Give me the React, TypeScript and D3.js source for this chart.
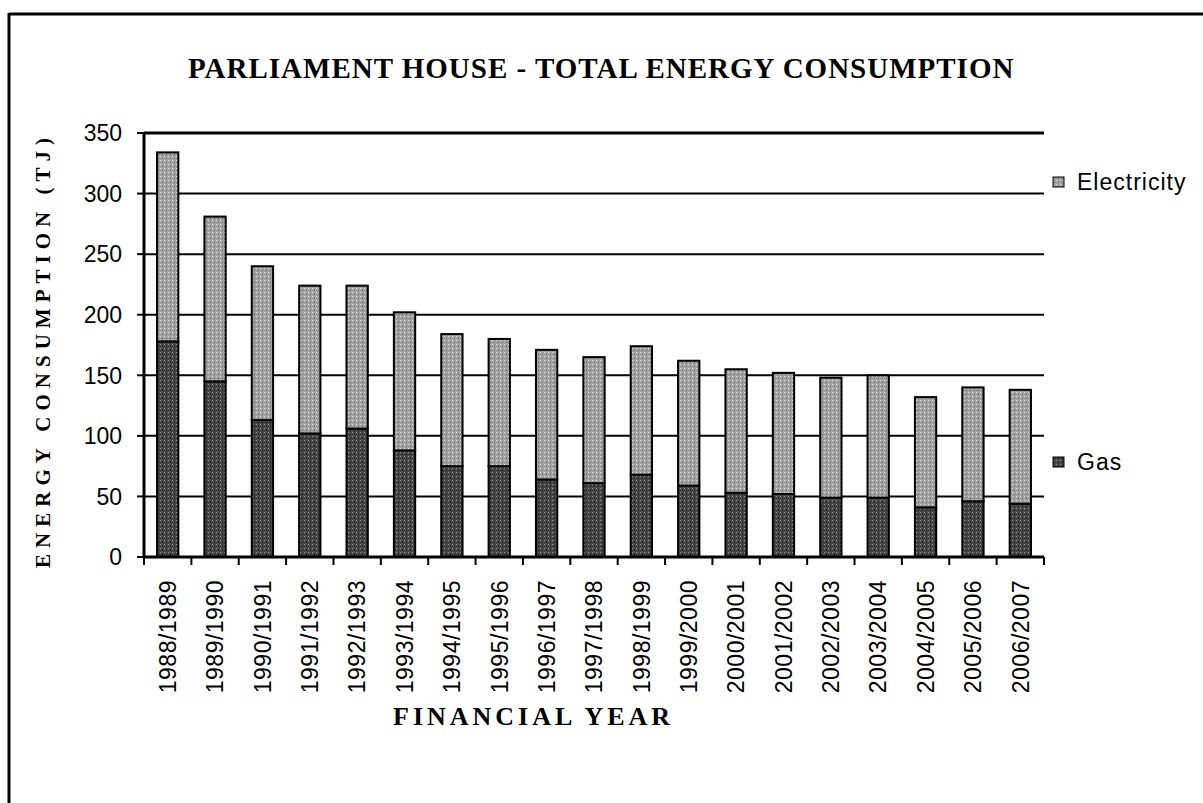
import React from 'react';
import * as d3 from 'd3';

const years = ['1988/1989','1989/1990','1990/1991','1991/1992','1992/1993','1993/1994','1994/1995','1995/1996','1996/1997','1997/1998','1998/1999','1999/2000','2000/2001','2001/2002','2002/2003','2003/2004','2004/2005','2005/2006','2006/2007'];
const gas = [178,145,113,102,106,88,75,75,64,61,68,59,53,52,49,49,41,46,44];
const electricity = [156,136,127,122,118,114,109,105,107,104,106,103,102,100,99,101,91,94,94];
const yTicks = [0,50,100,150,200,250,300,350];
const seriesNames = ['Electricity','Gas'];
const elecColor = '#a0a0a0';
const gasColor = '#464646';

export default function App() {
  const W = 1203, H = 803;
  const left = 144, right = 1044, top = 133, bottom = 557;
  const y = d3.scaleLinear().domain([0, 350]).range([bottom, top]);
  const x = d3.scaleBand<string>().domain(years).range([left, right]).paddingInner(0.55).paddingOuter(0.275);
  const bw = x.bandwidth();
  const step = x.step();
  const sans = '"Liberation Sans", Arial, sans-serif';
  const serif = '"Liberation Serif", "Times New Roman", serif';
  return (
    <svg width={W} height={H} style={{ position: 'absolute', left: 0, top: 0 }}>
      <defs>
        <pattern id="pe" width="4" height="4" patternUnits="userSpaceOnUse">
          <rect width="4" height="4" fill={elecColor} />
          <rect x="0" y="0" width="1" height="1" fill="#e4e4e4" />
          <rect x="2" y="2" width="1" height="1" fill="#666" />
        </pattern>
        <pattern id="pg" width="4" height="4" patternUnits="userSpaceOnUse">
          <rect width="4" height="4" fill={gasColor} />
          <rect x="0" y="0" width="1" height="1" fill="#999" />
          <rect x="2" y="2" width="1" height="1" fill="#151515" />
        </pattern>
      </defs>
      <rect x={0} y={0} width={W} height={H} fill="#fff" />
      {/* outer frame */}
      <line x1={9} y1={14} x2={W} y2={14} stroke="#000" strokeWidth={3} />
      <line x1={9} y1={13} x2={9} y2={H} stroke="#000" strokeWidth={3} />
      {/* title */}
      <text x={188} y={78} fontFamily={serif} fontWeight="bold" fontSize={29} letterSpacing={1} fill="#000">PARLIAMENT HOUSE - TOTAL ENERGY CONSUMPTION</text>
      {/* gridlines */}
      {yTicks.filter(t => t > 0).map(t => (
        <line key={t} x1={left} x2={right} y1={y(t)} y2={y(t)} stroke="#000" strokeWidth={t === 350 ? 3 : 2} />
      ))}
      {/* y ticks */}
      {yTicks.map(t => (
        <g key={'yt' + t}>
          <line x1={left - 7} x2={left} y1={y(t)} y2={y(t)} stroke="#000" strokeWidth={2} />
          <text x={122} y={y(t)} dy="0.36em" textAnchor="end" fontFamily={sans} fontSize={23} fill="#000">{t}</text>
        </g>
      ))}
      {/* bars */}
      {years.map((yr, i) => {
        const x0 = x(yr)!;
        const g = gas[i];
        const e = electricity[i];
        return (
          <g key={yr}>
            <rect x={x0} y={y(g)} width={bw} height={y(0) - y(g)} fill="url(#pg)" stroke="#000" strokeWidth={2} />
            <rect x={x0} y={y(g + e)} width={bw} height={y(g) - y(g + e)} fill="url(#pe)" stroke="#000" strokeWidth={2} />
          </g>
        );
      })}
      {/* axes */}
      <line x1={left} x2={left} y1={top - 1} y2={bottom + 1} stroke="#000" strokeWidth={3} />
      <line x1={left} x2={right} y1={bottom} y2={bottom} stroke="#000" strokeWidth={3} />
      {d3.range(years.length + 1).map(k => {
        const xx = left + k * step;
        return <line key={'xt' + k} x1={xx} x2={xx} y1={bottom} y2={bottom + 8} stroke="#000" strokeWidth={2} />;
      })}
      {years.map(yr => {
        const cx = x(yr)! + bw / 2;
        return (
          <text key={'xl' + yr} transform={`translate(${cx},580) rotate(-90)`} textAnchor="end" dy="0.36em" fontFamily={sans} fontSize={23} letterSpacing={0.5} fill="#000">{yr}</text>
        );
      })}
      {/* axis titles */}
      <text transform={`translate(50,350) rotate(-90)`} textAnchor="middle" fontFamily={serif} fontWeight="bold" fontSize={21} letterSpacing={6} fill="#000">ENERGY CONSUMPTION (TJ)</text>
      <text x={393} y={725} fontFamily={serif} fontWeight="bold" fontSize={26} letterSpacing={4} fill="#000">FINANCIAL YEAR</text>
      {/* legend */}
      {seriesNames.map((s, i) => {
        const ly = i === 0 ? 182 : 462;
        return (
          <g key={s}>
            <rect x={1053} y={ly - 5} width={11} height={10} fill={i === 0 ? 'url(#pe)' : 'url(#pg)'} stroke="#000" strokeWidth={1} />
            <text x={1077} y={ly} dy="0.36em" fontFamily={sans} fontSize={23} letterSpacing={1} fill="#000">{s}</text>
          </g>
        );
      })}
    </svg>
  );
}
